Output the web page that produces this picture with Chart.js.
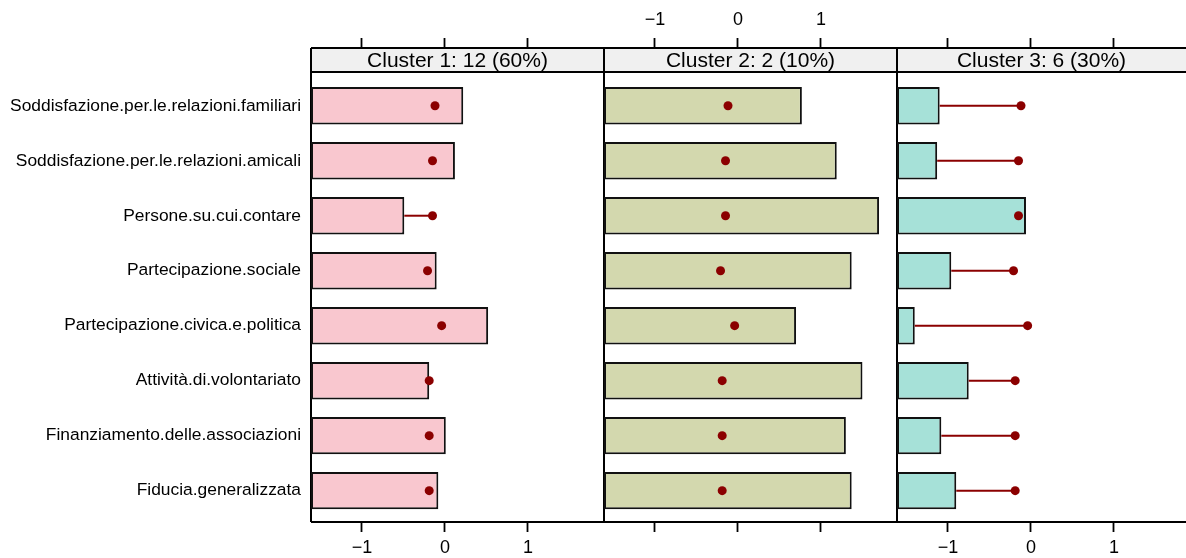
<!DOCTYPE html>
<html>
<head>
<meta charset="utf-8">
<script src="https://cdn.jsdelivr.net/npm/chart.js@4"></script>
<style>
  body { margin: 0; background: #fff; }
  #wrap { position: relative; width: 1186px; height: 558px; }
  #wrap canvas { position: absolute; left: 0; top: 0; }
</style>
</head>
<body>
<div id="wrap">
  <canvas id="p1" width="1186" height="558"></canvas>
  <canvas id="p2" width="1186" height="558"></canvas>
  <canvas id="p3" width="1186" height="558"></canvas>
</div>
<script>
const variables = [
  'Soddisfazione.per.le.relazioni.familiari',
  'Soddisfazione.per.le.relazioni.amicali',
  'Persone.su.cui.contare',
  'Partecipazione.sociale',
  'Partecipazione.civica.e.politica',
  'Attività.di.volontariato',
  'Finanziamento.delle.associazioni',
  'Fiducia.generalizzata'
];
const clusterTitles = ['Cluster 1: 12 (60%)', 'Cluster 2: 2 (10%)', 'Cluster 3: 6 (30%)'];
const cluster1 = [0.22, 0.12, -0.49, -0.10, 0.52, -0.19, 0.01, -0.08];
const cluster2 = [0.77, 1.19, 1.70, 1.37, 0.70, 1.50, 1.30, 1.37];
const cluster3 = [-1.10, -1.13, -0.06, -0.96, -1.40, -0.75, -1.08, -0.90];
const overallMean = [-0.12, -0.15, -0.15, -0.21, -0.04, -0.19, -0.19, -0.19];
const tickValues = [-1, 0, 1];

const XMIN = -1.614;
const FONT = '"Liberation Sans", Arial, sans-serif';
const fills = ['#F9C7CF', '#D3D8AE', '#A6E1D8'];

// strip + panel frame, lattice style
const framePlugin = {
  id: 'frame',
  beforeDatasetsDraw(chart, args, opts) {
    const {ctx, chartArea: a} = chart;
    const h = 24;
    ctx.save();
    ctx.fillStyle = '#F0F0F0';
    ctx.fillRect(a.left, a.top, a.right - a.left, h);
    ctx.fillStyle = '#000';
    ctx.font = '21px ' + FONT;
    ctx.textAlign = 'center';
    ctx.textBaseline = 'middle';
    ctx.fillText(opts.title, (a.left + a.right) / 2, a.top + h / 2 + 1);
    ctx.strokeStyle = '#000';
    ctx.lineWidth = 2;
    ctx.beginPath();
    ctx.moveTo(a.left, a.top); ctx.lineTo(a.right, a.top);
    ctx.moveTo(a.left, a.top + h); ctx.lineTo(a.right, a.top + h);
    ctx.moveTo(a.left, a.bottom); ctx.lineTo(a.right, a.bottom);
    ctx.moveTo(a.left, a.top); ctx.lineTo(a.left, a.bottom);
    if (opts.rightEdge) { ctx.moveTo(a.right, a.top); ctx.lineTo(a.right, a.bottom); }
    ctx.stroke();
    ctx.restore();
  }
};

function makePanel(id, idx, values, xmax, padLeft, padRight) {
  const datasets = [];
  datasets.push({
    type: 'line',
    data: overallMean.map((m, i) => ({x: m, y: i + 1})),
    showLine: false,
    pointRadius: 4.5,
    pointBackgroundColor: '#8B0000',
    pointBorderWidth: 0,
    order: 0
  });
  values.forEach((v, i) => {
    if (overallMean[i] > v) {
      datasets.push({
        type: 'line',
        data: [{x: v, y: i + 1}, {x: overallMean[i], y: i + 1}],
        borderColor: '#8B0000',
        borderWidth: 2,
        pointRadius: 0,
        order: 1
      });
    }
  });
  datasets.push({
    type: 'bar',
    data: values.map((v, i) => ({x: v, y: i + 1})),
    base: XMIN,
    backgroundColor: fills[idx],
    borderColor: '#111',
    borderWidth: 2,
    borderSkipped: false,
    categoryPercentage: 1,
    barPercentage: 0.68,
    order: 2
  });

  const tickGrid = {drawOnChartArea: false, tickLength: 10, tickColor: '#000', tickWidth: 1.8};
  const fixTicks = s => { s.ticks = tickValues.map(v => ({value: v})); };
  const fmt = v => (v < 0 ? '\u2212' + Math.abs(v) : String(v));

  new Chart(document.getElementById(id), {
    type: 'bar',
    data: {datasets},
    options: {
      indexAxis: 'y',
      responsive: false,
      animation: false,
      layout: {autoPadding: false, padding: {left: padLeft, right: padRight, top: 0, bottom: 0}},
      plugins: {
        legend: {display: false},
        tooltip: {enabled: false},
        frame: {title: clusterTitles[idx], rightEdge: idx < 2}
      },
      scales: {
        x: {
          type: 'linear', position: 'bottom', min: XMIN, max: xmax,
          afterBuildTicks: fixTicks,
          afterFit: s => { s.height = 36; },
          grid: tickGrid,
          border: {display: false},
          ticks: {display: idx !== 1, maxRotation: 0, callback: fmt, padding: 5, color: '#000', font: {size: 18, family: FONT}}
        },
        x2: {
          type: 'linear', position: 'top', min: XMIN, max: xmax,
          afterBuildTicks: fixTicks,
          afterFit: s => { s.height = 48; },
          grid: tickGrid,
          border: {display: false},
          ticks: {display: idx === 1, maxRotation: 0, callback: fmt, padding: 7, color: '#000', font: {size: 18, family: FONT}}
        },
        y: {
          type: 'linear', reverse: true, min: -0.05, max: 8.57, offset: false,
          display: idx === 0,
          afterBuildTicks: s => { s.ticks = variables.map((_, i) => ({value: i + 1})); },
          afterFit: s => { s.width = idx === 0 ? 311 : 0; },
          grid: {display: false, drawTicks: false, offset: false},
          border: {display: false},
          ticks: {callback: v => variables[v - 1], padding: 10, color: '#000', font: {size: 17.4, family: FONT}}
        }
      }
    },
    plugins: [framePlugin]
  });
}

makePanel('p1', 0, cluster1, 1.916, 0, 582);
makePanel('p2', 1, cluster2, 1.916, 604, 289);
makePanel('p3', 2, cluster3, 1.868, 897, 0);
</script>
</body>
</html>
